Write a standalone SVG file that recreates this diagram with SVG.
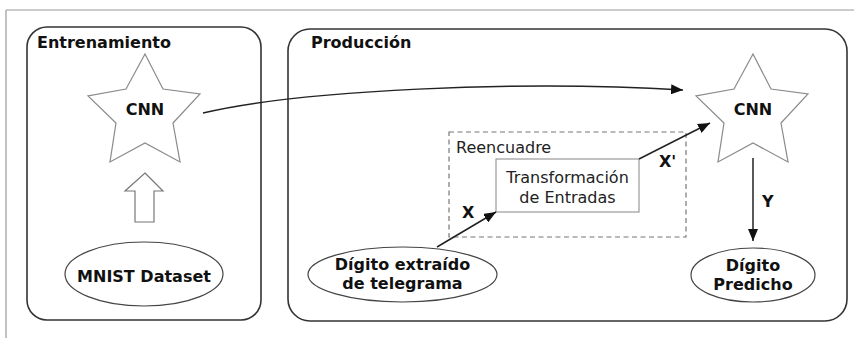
<svg xmlns="http://www.w3.org/2000/svg" width="854" height="338" viewBox="0 0 854 338">
<style>
.frame{stroke:#9a9a9a;stroke-width:1.2;fill:none}
.cont{fill:#fff;stroke:#333;stroke-width:1.6}
.star{fill:#fff;stroke:#8a8a8a;stroke-width:1.2;stroke-linejoin:miter}
.ell{fill:#fff;stroke:#444;stroke-width:1.2}
.bt{font-family:"DejaVu Sans",Verdana,sans-serif;font-weight:bold;font-size:16px;fill:#111}
.rt{font-family:"DejaVu Sans",Verdana,sans-serif;font-size:16px;fill:#222}
.edge{stroke:#222;stroke-width:1.5;fill:none}
</style>
<defs>
<marker id="ah" viewBox="0 0 12 10" refX="12" refY="5" markerWidth="12" markerHeight="10" markerUnits="userSpaceOnUse" orient="auto">
<path d="M0,0 L12,5 L0,10 Z" fill="#111"/>
</marker>
<polygon id="starShape" points="145,54 126,89 88,96 116,123 110,162 145,143 180,162 173,123 200,94 163,89"/>
</defs>
<rect width="854" height="338" fill="#fff"/>
<g id="frame">
<line class="frame" x1="6" y1="10" x2="854" y2="10"/>
<line class="frame" x1="6" y1="10" x2="6" y2="338"/>
</g>
<g id="entrenamiento">
<rect class="cont" x="27" y="27" width="234" height="293" rx="20" ry="20"/>
<text class="bt" x="37" y="48">Entrenamiento</text>
</g>
<g id="produccion">
<rect class="cont" x="288" y="29" width="559" height="292" rx="22" ry="22"/>
<text class="bt" x="311" y="48">Producción</text>
</g>
<g id="reencuadre">
<rect x="449" y="132" width="237" height="105" fill="none" stroke="#777" stroke-width="1.2" stroke-dasharray="5,3.5"/>
<text class="rt" x="456" y="153">Reencuadre</text>
</g>
<g id="cnn1">
<use href="#starShape" class="star"/>
<text class="bt" x="145" y="115" text-anchor="middle">CNN</text>
</g>
<g id="cnn2">
<use href="#starShape" class="star" transform="translate(608,0)"/>
<text class="bt" x="753" y="115" text-anchor="middle">CNN</text>
</g>
<g id="mnist">
<ellipse class="ell" cx="144" cy="274" rx="79" ry="32"/>
<text class="bt" x="144" y="282" text-anchor="middle">MNIST Dataset</text>
</g>
<g id="transformacion">
<rect x="496" y="159" width="143" height="53" fill="#fff" stroke="#999" stroke-width="1.2"/>
<text class="rt" x="567.5" y="183" text-anchor="middle">Transformación</text>
<text class="rt" x="567.5" y="203" text-anchor="middle">de Entradas</text>
</g>
<g id="digito-extraido">
<ellipse class="ell" cx="402.5" cy="274.5" rx="94.5" ry="27.5"/>
<text class="bt" x="402.5" y="270" text-anchor="middle">Dígito extraído</text>
<text class="bt" x="402.5" y="289" text-anchor="middle">de telegrama</text>
</g>
<g id="digito-predicho">
<ellipse class="ell" cx="753" cy="275" rx="62" ry="27"/>
<text class="bt" x="753" y="271" text-anchor="middle">Dígito</text>
<text class="bt" x="753" y="290" text-anchor="middle">Predicho</text>
</g>
<g id="connectors">
<path class="edge" d="M203,113 C300,90 520,80 683,90" marker-end="url(#ah)"/>
<polygon points="145,173 163,191 154,191 154,222 135,222 135,191 125,191" fill="#fff" stroke="#777" stroke-width="1.2"/>
<line class="edge" x1="437" y1="247" x2="496" y2="212" marker-end="url(#ah)"/>
<line class="edge" x1="639" y1="159" x2="710" y2="123" marker-end="url(#ah)"/>
<line class="edge" x1="753" y1="158" x2="753" y2="241" marker-end="url(#ah)"/>
<text class="bt" x="462" y="218">X</text>
<text class="bt" x="659" y="167">X'</text>
<text class="bt" x="762" y="207">Y</text>
</g>
</svg>
